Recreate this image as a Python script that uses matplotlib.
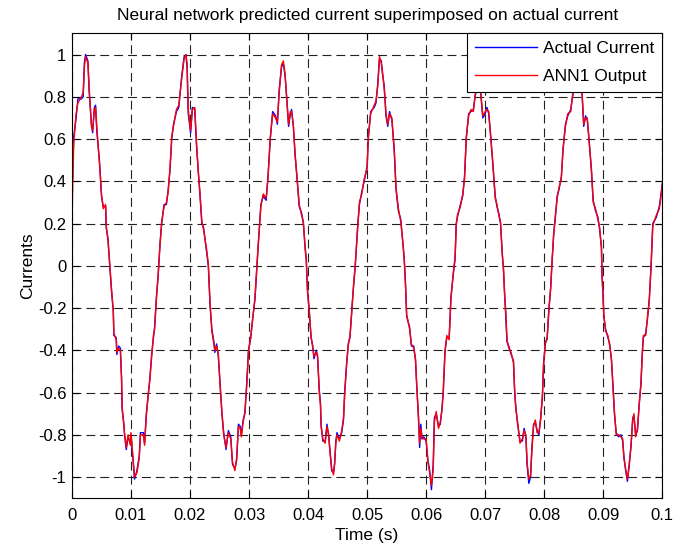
import matplotlib
matplotlib.use('Agg')
import matplotlib.pyplot as plt

plt.rcParams['font.family'] = ['Liberation Sans', 'DejaVu Sans']

# time samples (s)
time = [
    0.0000, 0.0003, 0.0007, 0.0010, 0.0016, 0.0019, 0.0021, 0.0023, 0.0027, 0.0029,
    0.0033, 0.0035, 0.0038, 0.0040, 0.0042, 0.0047, 0.0050, 0.0053, 0.0057, 0.0058,
    0.0061, 0.0064, 0.0067, 0.0070, 0.0071, 0.0075, 0.0076, 0.0079, 0.0082, 0.0084,
    0.0085, 0.0088, 0.0089, 0.0092, 0.0095, 0.0099, 0.0100, 0.0102, 0.0106, 0.0110,
    0.0114, 0.0116, 0.0121, 0.0123, 0.0126, 0.0129, 0.0132, 0.0135, 0.0138, 0.0140,
    0.0143, 0.0146, 0.0149, 0.0152, 0.0156, 0.0160, 0.0163, 0.0166, 0.0169, 0.0172,
    0.0177, 0.0181, 0.0186, 0.0190, 0.0193, 0.0195, 0.0197, 0.0201, 0.0204, 0.0208,
    0.0211, 0.0214, 0.0217, 0.0220, 0.0223, 0.0228, 0.0231, 0.0234, 0.0237, 0.0241,
    0.0242, 0.0245, 0.0248, 0.0251, 0.0254, 0.0257, 0.0261, 0.0265, 0.0269, 0.0272,
    0.0276, 0.0279, 0.0282, 0.0285, 0.0287, 0.0290, 0.0293, 0.0296, 0.0299, 0.0303,
    0.0306, 0.0310, 0.0313, 0.0315, 0.0320, 0.0324, 0.0329, 0.0332, 0.0336, 0.0340,
    0.0345, 0.0348, 0.0351, 0.0355, 0.0358, 0.0361, 0.0364, 0.0367, 0.0370, 0.0372,
    0.0375, 0.0378, 0.0381, 0.0385, 0.0389, 0.0392, 0.0395, 0.0397, 0.0399, 0.0402,
    0.0405, 0.0408, 0.0410, 0.0414, 0.0416, 0.0419, 0.0421, 0.0422, 0.0425, 0.0429,
    0.0432, 0.0435, 0.0437, 0.0440, 0.0443, 0.0445, 0.0447, 0.0449, 0.0453, 0.0457,
    0.0460, 0.0462, 0.0465, 0.0468, 0.0471, 0.0474, 0.0477, 0.0480, 0.0484, 0.0487,
    0.0491, 0.0495, 0.0500, 0.0502, 0.0506, 0.0512, 0.0515, 0.0518, 0.0521, 0.0524,
    0.0526, 0.0529, 0.0532, 0.0535, 0.0538, 0.0542, 0.0546, 0.0549, 0.0553, 0.0557,
    0.0561, 0.0563, 0.0565, 0.0567, 0.0572, 0.0575, 0.0579, 0.0582, 0.0584, 0.0587,
    0.0589, 0.0591, 0.0593, 0.0596, 0.0600, 0.0603, 0.0606, 0.0609, 0.0612, 0.0614,
    0.0617, 0.0621, 0.0624, 0.0627, 0.0629, 0.0632, 0.0635, 0.0639, 0.0642, 0.0646,
    0.0649, 0.0651, 0.0653, 0.0658, 0.0662, 0.0665, 0.0668, 0.0672, 0.0676, 0.0680,
    0.0683, 0.0686, 0.0689, 0.0692, 0.0696, 0.0700, 0.0703, 0.0706, 0.0709, 0.0713,
    0.0717, 0.0720, 0.0723, 0.0726, 0.0729, 0.0731, 0.0733, 0.0735, 0.0737, 0.0740,
    0.0744, 0.0748, 0.0750, 0.0752, 0.0755, 0.0759, 0.0763, 0.0766, 0.0769, 0.0771,
    0.0774, 0.0777, 0.0779, 0.0782, 0.0785, 0.0788, 0.0791, 0.0794, 0.0797, 0.0799,
    0.0802, 0.0805, 0.0808, 0.0811, 0.0813, 0.0816, 0.0819, 0.0822, 0.0825, 0.0829,
    0.0832, 0.0836, 0.0840, 0.0845, 0.0848, 0.0850, 0.0855, 0.0859, 0.0862, 0.0864,
    0.0867, 0.0870, 0.0873, 0.0876, 0.0880, 0.0883, 0.0887, 0.0891, 0.0894, 0.0897,
    0.0898, 0.0900, 0.0901, 0.0904, 0.0908, 0.0911, 0.0914, 0.0917, 0.0919, 0.0922,
    0.0926, 0.0930, 0.0933, 0.0935, 0.0938, 0.0941, 0.0944, 0.0947, 0.0950, 0.0952,
    0.0955, 0.0958, 0.0961, 0.0964, 0.0966, 0.0968, 0.0972, 0.0975, 0.0978, 0.0981,
    0.0984, 0.0990, 0.0995, 0.0998, 0.1000,
]

actual_current = [
    0.34, 0.61, 0.70, 0.79, 0.79, 0.80, 0.96, 1.00, 0.97, 0.83,
    0.67, 0.63, 0.75, 0.76, 0.64, 0.48, 0.33, 0.28, 0.28, 0.18,
    0.13, 0.00, -0.12, -0.21, -0.33, -0.34, -0.42, -0.38, -0.39, -0.53,
    -0.68, -0.75, -0.80, -0.87, -0.81, -0.84, -0.80, -0.87, -1.01, -0.97,
    -0.90, -0.79, -0.79, -0.84, -0.70, -0.62, -0.53, -0.42, -0.34, -0.29,
    -0.15, -0.05, 0.10, 0.20, 0.29, 0.29, 0.36, 0.45, 0.60, 0.67,
    0.73, 0.75, 0.90, 0.99, 1.00, 0.94, 0.72, 0.63, 0.75, 0.74,
    0.57, 0.45, 0.33, 0.20, 0.18, 0.07, 0.00, -0.19, -0.30, -0.37,
    -0.41, -0.37, -0.43, -0.56, -0.70, -0.79, -0.87, -0.78, -0.81, -0.94,
    -0.96, -0.92, -0.75, -0.76, -0.80, -0.73, -0.70, -0.56, -0.40, -0.34,
    -0.25, -0.16, -0.02, 0.07, 0.29, 0.33, 0.31, 0.42, 0.60, 0.73,
    0.71, 0.67, 0.83, 0.94, 0.96, 0.90, 0.79, 0.66, 0.72, 0.74,
    0.66, 0.53, 0.42, 0.28, 0.25, 0.20, 0.09, 0.03, -0.12, -0.21,
    -0.34, -0.38, -0.44, -0.40, -0.43, -0.59, -0.65, -0.75, -0.83, -0.83,
    -0.75, -0.81, -0.87, -0.97, -0.98, -0.94, -0.83, -0.79, -0.82, -0.79,
    -0.73, -0.60, -0.48, -0.37, -0.34, -0.21, -0.10, 0.00, 0.19, 0.29,
    0.35, 0.40, 0.47, 0.60, 0.73, 0.75, 0.77, 0.86, 0.98, 0.97,
    0.91, 0.85, 0.71, 0.66, 0.73, 0.69, 0.55, 0.36, 0.26, 0.22,
    0.09, 0.03, -0.08, -0.24, -0.29, -0.38, -0.38, -0.45, -0.56, -0.72,
    -0.86, -0.75, -0.82, -0.81, -0.83, -0.92, -0.97, -1.06, -0.94, -0.72,
    -0.70, -0.76, -0.75, -0.67, -0.60, -0.40, -0.34, -0.34, -0.15, -0.04,
    0.03, 0.20, 0.23, 0.29, 0.33, 0.42, 0.60, 0.72, 0.73, 0.74,
    0.80, 0.85, 0.93, 0.83, 0.70, 0.72, 0.75, 0.72, 0.63, 0.48,
    0.33, 0.28, 0.25, 0.20, 0.06, -0.02, -0.13, -0.23, -0.36, -0.38,
    -0.42, -0.45, -0.60, -0.67, -0.75, -0.83, -0.83, -0.77, -0.81, -0.94,
    -1.03, -1.00, -0.87, -0.75, -0.74, -0.78, -0.80, -0.72, -0.62, -0.46,
    -0.37, -0.34, -0.21, -0.10, 0.00, 0.15, 0.23, 0.33, 0.36, 0.42,
    0.55, 0.67, 0.71, 0.74, 0.80, 0.83, 0.93, 0.95, 0.90, 0.82,
    0.66, 0.71, 0.69, 0.60, 0.45, 0.31, 0.26, 0.23, 0.17, 0.09,
    -0.05, -0.15, -0.24, -0.30, -0.34, -0.37, -0.45, -0.59, -0.70, -0.79,
    -0.81, -0.80, -0.83, -0.90, -0.97, -1.02, -0.94, -0.86, -0.72, -0.71,
    -0.80, -0.78, -0.65, -0.56, -0.42, -0.34, -0.32, -0.25, -0.16, -0.01,
    0.20, 0.23, 0.28, 0.34, 0.39,
]

ann1_output = [
    0.22, 0.58, 0.72, 0.77, 0.80, 0.82, 0.94, 0.99, 0.96, 0.85,
    0.66, 0.64, 0.74, 0.75, 0.66, 0.47, 0.34, 0.27, 0.29, 0.19,
    0.12, 0.01, -0.11, -0.22, -0.32, -0.35, -0.41, -0.39, -0.40, -0.54,
    -0.67, -0.76, -0.79, -0.86, -0.80, -0.85, -0.79, -0.86, -1.00, -0.98,
    -0.91, -0.80, -0.80, -0.85, -0.71, -0.61, -0.54, -0.43, -0.33, -0.30,
    -0.16, -0.04, 0.09, 0.21, 0.28, 0.30, 0.35, 0.46, 0.61, 0.66,
    0.74, 0.76, 0.89, 0.98, 1.00, 0.96, 0.74, 0.64, 0.74, 0.75,
    0.58, 0.44, 0.34, 0.21, 0.17, 0.08, 0.01, -0.18, -0.31, -0.38,
    -0.40, -0.38, -0.42, -0.57, -0.69, -0.80, -0.86, -0.79, -0.82, -0.93,
    -0.97, -0.91, -0.76, -0.77, -0.81, -0.74, -0.69, -0.57, -0.41, -0.33,
    -0.26, -0.15, -0.01, 0.08, 0.28, 0.34, 0.32, 0.41, 0.61, 0.72,
    0.70, 0.68, 0.82, 0.95, 0.97, 0.91, 0.78, 0.67, 0.73, 0.73,
    0.67, 0.52, 0.43, 0.29, 0.24, 0.21, 0.08, 0.02, -0.11, -0.22,
    -0.33, -0.39, -0.43, -0.41, -0.42, -0.60, -0.66, -0.76, -0.82, -0.84,
    -0.76, -0.80, -0.88, -0.96, -0.99, -0.93, -0.84, -0.80, -0.83, -0.78,
    -0.72, -0.61, -0.47, -0.38, -0.33, -0.22, -0.09, 0.01, 0.18, 0.30,
    0.34, 0.41, 0.46, 0.61, 0.72, 0.76, 0.78, 0.85, 0.99, 0.96,
    0.92, 0.84, 0.72, 0.67, 0.72, 0.70, 0.54, 0.37, 0.27, 0.21,
    0.10, 0.02, -0.09, -0.23, -0.30, -0.37, -0.39, -0.44, -0.57, -0.71,
    -0.84, -0.77, -0.81, -0.82, -0.82, -0.93, -0.98, -1.04, -0.96, -0.74,
    -0.69, -0.77, -0.74, -0.68, -0.59, -0.41, -0.33, -0.35, -0.16, -0.03,
    0.04, 0.19, 0.24, 0.28, 0.34, 0.41, 0.61, 0.71, 0.74, 0.73,
    0.81, 0.86, 0.91, 0.84, 0.71, 0.73, 0.74, 0.73, 0.62, 0.49,
    0.32, 0.29, 0.24, 0.21, 0.05, -0.01, -0.14, -0.22, -0.35, -0.39,
    -0.41, -0.46, -0.59, -0.68, -0.74, -0.84, -0.82, -0.78, -0.80, -0.93,
    -1.01, -0.99, -0.88, -0.76, -0.73, -0.79, -0.79, -0.73, -0.61, -0.47,
    -0.36, -0.35, -0.20, -0.11, 0.01, 0.14, 0.24, 0.32, 0.37, 0.41,
    0.56, 0.66, 0.72, 0.73, 0.81, 0.84, 0.94, 0.96, 0.91, 0.83,
    0.67, 0.70, 0.70, 0.59, 0.46, 0.30, 0.27, 0.22, 0.18, 0.08,
    -0.04, -0.16, -0.23, -0.31, -0.33, -0.38, -0.44, -0.60, -0.69, -0.80,
    -0.80, -0.81, -0.82, -0.91, -0.96, -1.01, -0.95, -0.85, -0.73, -0.70,
    -0.81, -0.77, -0.66, -0.55, -0.43, -0.33, -0.33, -0.24, -0.17, 0.00,
    0.19, 0.24, 0.27, 0.33, 0.38,
]

x_ticks = [0, 0.01, 0.02, 0.03, 0.04, 0.05, 0.06, 0.07, 0.08, 0.09, 0.1]
x_tick_labels = ['0', '0.01', '0.02', '0.03', '0.04', '0.05', '0.06', '0.07', '0.08', '0.09', '0.1']
y_ticks = [-1, -0.8, -0.6, -0.4, -0.2, 0, 0.2, 0.4, 0.6, 0.8, 1]
y_tick_labels = ['-1', '-0.8', '-0.6', '-0.4', '-0.2', '0', '0.2', '0.4', '0.6', '0.8', '1']

fig = plt.figure(figsize=(6.92, 5.48), dpi=100)
ax = fig.add_axes([0.104, 0.091, 0.853, 0.848])

ax.plot(time, actual_current, color='#0000ff', linewidth=1.0, label='Actual Current')
ax.plot(time, ann1_output, color='#ff0000', linewidth=1.0, label='ANN1 Output')

ax.set_xlim(0, 0.1)
ax.set_ylim(-1.1, 1.1)
ax.set_xticks(x_ticks)
ax.set_xticklabels(x_tick_labels)
ax.set_yticks(y_ticks)
ax.set_yticklabels(y_tick_labels)
ax.tick_params(direction='in', top=True, right=True, length=5, labelsize=12)
ax.tick_params(axis='x', pad=7)
ax.tick_params(axis='y', pad=4)
for s in ax.spines.values():
    s.set_linewidth(0.8)
ax.grid(True, color='#222222', linestyle=(0, (8, 4.5)), linewidth=0.8)

ax.set_xlabel('Time (s)', fontsize=12.5, labelpad=4)
ax.set_ylabel('Currents', fontsize=12.5, labelpad=2)
ax.set_title('Neural network predicted current superimposed on actual current', fontsize=12.5, pad=10)

leg = ax.legend(loc='upper right', fontsize=12.5, fancybox=False, framealpha=1,
                edgecolor='black', borderaxespad=0, handlelength=3.6,
                handletextpad=0.35, borderpad=0.45, labelspacing=0.7)
leg.get_frame().set_linewidth(0.8)

fig.savefig('out.png', dpi=100)
